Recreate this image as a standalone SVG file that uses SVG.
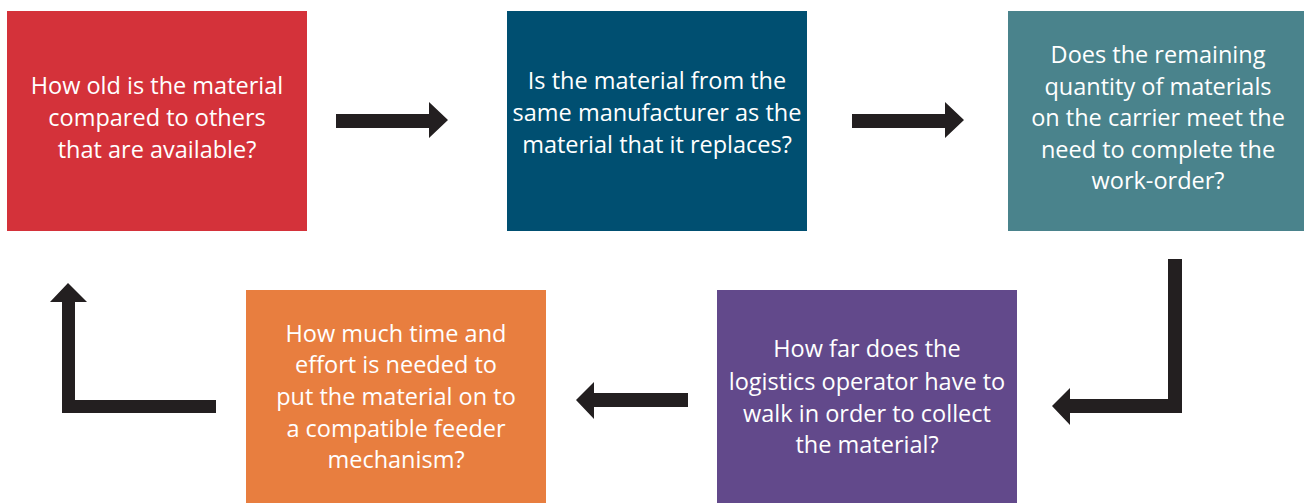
<svg xmlns="http://www.w3.org/2000/svg" width="1304" height="503" viewBox="0 0 1304 503">
  <style>
    .box-text { font-family: "Open Sans", "Noto Sans", "Liberation Sans", sans-serif; font-size: 23.5px; fill: #ffffff; text-anchor: middle; }
    .arrow { fill: #231f20; }
  </style>
  <rect width="1304" height="503" fill="#ffffff"/>

  <g id="node-age">
    <rect x="7" y="11" width="300" height="220" fill="#d4323a"/>
    <text class="box-text"><tspan x="157" y="94">How old is the material</tspan><tspan x="157" y="126">compared to others</tspan><tspan x="157" y="158">that are available?</tspan></text>
  </g>

  <g id="node-manufacturer">
    <rect x="507" y="11" width="300" height="220" fill="#004f71"/>
    <text class="box-text"><tspan x="657" y="89">Is the material from the</tspan><tspan x="657" y="121">same manufacturer as the</tspan><tspan x="657" y="153">material that it replaces?</tspan></text>
  </g>

  <g id="node-quantity">
    <rect x="1008" y="11" width="296" height="220" fill="#4a838c"/>
    <text class="box-text"><tspan x="1158" y="63">Does the remaining</tspan><tspan x="1158" y="95">quantity of materials</tspan><tspan x="1158" y="126">on the carrier meet the</tspan><tspan x="1158" y="158">need to complete the</tspan><tspan x="1158" y="189">work-order?</tspan></text>
  </g>

  <g id="node-distance">
    <rect x="717" y="290" width="300" height="213" fill="#62498b"/>
    <text class="box-text"><tspan x="867" y="357">How far does the</tspan><tspan x="867" y="390">logistics operator have to</tspan><tspan x="867" y="422">walk in order to collect</tspan><tspan x="867" y="453">the material?</tspan></text>
  </g>

  <g id="node-effort">
    <rect x="246" y="290" width="300" height="213" fill="#e87e3f"/>
    <text class="box-text"><tspan x="396" y="342">How much time and</tspan><tspan x="396" y="373">effort is needed to</tspan><tspan x="396" y="405">put the material on to</tspan><tspan x="396" y="437">a compatible feeder</tspan><tspan x="396" y="468">mechanism?</tspan></text>
  </g>

  <g id="connectors">
    <!-- straight arrow: age -> manufacturer -->
    <polygon class="arrow" points="336,114 429,114 429,102 448,120 429,138 429,128 336,128"/>
    <!-- straight arrow: manufacturer -> quantity -->
    <polygon class="arrow" points="852,114 945,114 945,102 964,120 945,138 945,128 852,128"/>
    <!-- bent arrow: quantity -> distance -->
    <polygon class="arrow" points="1168,259 1182,259 1182,413 1070,413 1070,425 1052,406 1070,388 1070,399 1168,399"/>
    <!-- straight arrow: distance -> effort -->
    <polygon class="arrow" points="688,393 688,407 594,407 594,419 576,400 594,382 594,393"/>
    <!-- bent arrow: effort -> age -->
    <polygon class="arrow" points="216,400 216,413 62,413 62,302 50,302 68,283 87,302 75,302 75,400"/>
  </g>
</svg>
